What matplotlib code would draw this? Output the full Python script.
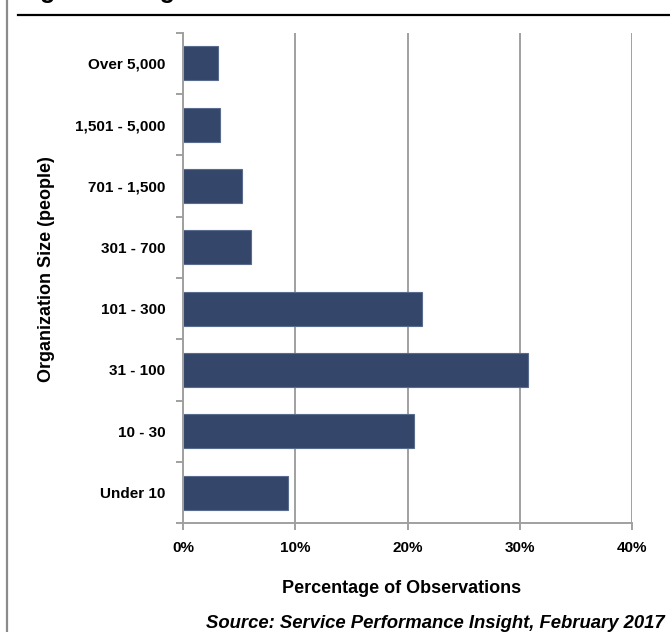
import matplotlib
matplotlib.use("Agg")
import matplotlib.pyplot as plt
from matplotlib.lines import Line2D
from matplotlib.ticker import FixedLocator, FuncFormatter

plt.rcParams['font.family'] = ['Liberation Sans', 'DejaVu Sans']
plt.rcParams['font.weight'] = 'bold'

# Organization size bands, bottom to top
categories = ["Under 10", "10 - 30", "31 - 100", "101 - 300",
              "301 - 700", "701 - 1,500", "1,501 - 5,000", "Over 5,000"]
# Percentage of observations per band
values = [9.3, 20.6, 30.7, 21.3, 6.0, 5.2, 3.3, 3.1]
x_ticks = [0, 10, 20, 30, 40]

bar_color = "#34466A"
edge_color = "#5A6C8E"
grid_color = "#A0A0A0"

fig = plt.figure(figsize=(6.70, 6.32), dpi=100)
ax = fig.add_axes([183.3 / 670, 1 - 523.3 / 632, 448.7 / 670, 490.6 / 632])

pos = list(range(len(categories)))
ax.barh(pos, values, height=0.55, color=bar_color, edgecolor=edge_color,
        linewidth=0.8, zorder=3)

ax.set_xlim(0, 40)
ax.set_ylim(-0.5, len(categories) - 0.5)

# x axis: percentage ticks with vertical gridlines
ax.xaxis.set_major_locator(FixedLocator(x_ticks))
ax.xaxis.set_major_formatter(FuncFormatter(lambda v, p: f"{int(v)}%"))
ax.grid(axis='x', color=grid_color, linewidth=1.4, zorder=0)
ax.tick_params(axis='x', which='major', length=5, width=1.4, color=grid_color,
               labelsize=11, pad=7.5)

# y axis: tick marks between categories, labels centered on bars
ax.yaxis.set_major_locator(FixedLocator([p - 0.5 for p in pos] + [pos[-1] + 0.5]))
ax.yaxis.set_major_formatter(FuncFormatter(lambda v, p: ""))
ax.yaxis.set_minor_locator(FixedLocator(pos))
ax.set_yticklabels(categories, minor=True)
ax.tick_params(axis='y', which='major', length=5, width=1.4, color=grid_color)
ax.tick_params(axis='y', which='minor', length=0, labelsize=11, pad=13)

for side in ("top", "right"):
    ax.spines[side].set_visible(False)
for side in ("left", "bottom"):
    ax.spines[side].set_color(grid_color)
    ax.spines[side].set_linewidth(1.4)
    ax.spines[side].set_zorder(4)

ax.set_xlabel("Percentage of Observations", fontsize=13, fontweight='bold')
ax.xaxis.set_label_coords(0.486, -0.132)
ax.xaxis.label.set_va('center')
ax.set_ylabel("Organization Size (people)", fontsize=13, fontweight='bold')
ax.yaxis.set_label_coords(-0.305, 0.519)
ax.yaxis.label.set_va('center')

# Page furniture: left margin rule, heading rule and heading text
fig.add_artist(Line2D([6.5 / 670, 6.5 / 670], [0, 1], color="#8C8C8C",
                      linewidth=1.6, transform=fig.transFigure))
fig.add_artist(Line2D([18 / 670, 1], [1 - 15 / 632, 1 - 15 / 632], color="black",
                      linewidth=1.6, transform=fig.transFigure))
fig.text(18 / 670, 1 + 2 / 632, "Figure 3: Organization Size", fontsize=18,
         fontweight='bold', ha='left', va='baseline')

fig.text(665 / 670, 1 - 624 / 632, "Source: Service Performance Insight, February 2017",
         fontsize=13.3, fontweight='bold', style='italic', ha='right', va='center')

fig.savefig("out.png", dpi=100)
